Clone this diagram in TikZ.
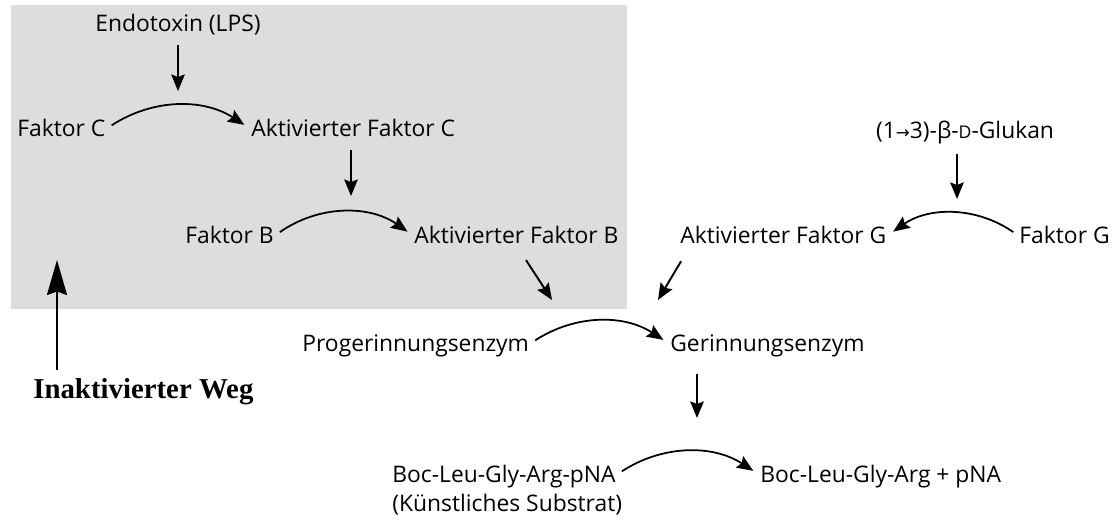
\documentclass[tikz,border=0pt]{standalone}
\usepackage{fontspec}
\setsansfont{Open Sans}
\newfontfamily\wegfont{Liberation Serif}
\newfontfamily\zeichenfont{DejaVu Sans}
\usetikzlibrary{arrows.meta}
\definecolor{kasten}{RGB}{220,221,223}
\tikzset{
	stoff/.style={font=\sffamily\fontsize{13}{15}\selectfont, inner sep=0pt, text height=9.5pt, text depth=0.6pt},
	weg/.style={font=\wegfont\bfseries\fontsize{16.4}{18}\selectfont, inner sep=0pt},
	pfeil/.style={-{Stealth[length=3.3mm, width=2.7mm, inset=0.5mm]}, line width=1.1pt},
	bogen/.style={pfeil, line width=1pt, shorten <=4pt, shorten >=4.5pt},
	wegpfeil/.style={-{Stealth[length=7mm, width=4mm, inset=0.7mm]}, line width=1.3pt}
}
\begin{document}
\begin{tikzpicture}[x=0.02cm, y=0.02cm]
			%%%%% START %%%%%
			\useasboundingbox (0, 0) rectangle (1113, 520);
			
			\fill[kasten] (11, 211) rectangle (627, 515);
			
			\node[stoff, anchor=base] (lps) at (178, 488) {Endotoxin (LPS)};
			\node[stoff, anchor=base west] (fc) at (17, 383) {Faktor C};
			\node[stoff, anchor=base west] (afc) at (251, 383) {Aktivierter Faktor C};
			\node[stoff, anchor=base west] (fb) at (185, 276) {Faktor B};
			\node[stoff, anchor=base west] (afb) at (414, 276) {Aktivierter Faktor B};
			
			\node[stoff, anchor=base] (glu) at (965, 381) {(1{\zeichenfont\fontsize{9.5}{10}\selectfont →}3)-β-{\fontsize{10}{12}\selectfont D}-Glukan};
			\node[stoff, anchor=base west] (afg) at (680, 276) {Aktivierter Faktor G};
			\node[stoff, anchor=base east] (fg) at (1110, 276) {Faktor G};
			
			\node[stoff, anchor=base west] (pro) at (302, 168) {Progerinnungsenzym};
			\node[stoff, anchor=base west] (ger) at (670, 168) {Gerinnungsenzym};
			
			\node[stoff, anchor=base west] (boc) at (392, 37) {Boc-Leu-Gly-Arg-pNA};
			\node[stoff, anchor=base west] (subst) at (392, 8) {(Künstliches Substrat)};
			\node[stoff, anchor=base west] (prod) at (760, 37) {Boc-Leu-Gly-Arg + pNA};
			
			\node[weg, anchor=base west] (inakt) at (33, 121) {Inaktivierter Weg};
			
			\coordinate (zC) at (178, 429);
			\coordinate (zB) at (351, 324);
			\coordinate (zG) at (957, 321);
			\coordinate (zPB) at (552, 220);
			\coordinate (zPG) at (658, 220);
			\coordinate (zS) at (697, 102);
			\coordinate (zW) at (57, 260);
			
			\draw[pfeil, shorten <=6.5pt] (lps.south) -- (zC);
			\draw[bogen] (fc.east) to[out=33, in=147] (afc.west);
			\draw[pfeil, shorten <=6.5pt] (afc.south -| zB) -- (zB);
			\draw[bogen] (fb.east) to[out=35, in=145] (afb.west);
			\draw[pfeil, shorten <=10pt] (afb.south) -- (zPB);
			
			\draw[pfeil, shorten <=7.5pt] (glu.south -| zG) -- (zG);
			\draw[bogen] (fg.west) to[out=145, in=35] (afg.east);
			\draw[pfeil, shorten <=10.5pt] ([xshift=6pt]afg.south west) -- (zPG);
			
			\draw[bogen] (pro.east) to[out=33, in=147] (ger.west);
			\draw[pfeil, shorten <=11.5pt] (ger.south -| zS) -- (zS);
			\draw[bogen] (boc.east) to[out=33, in=147] (prod.west);
			
			\draw[wegpfeil, shorten <=5pt] (inakt.north -| zW) -- (zW);
			%%%%% END %%%%%
\end{tikzpicture}
\end{document}
